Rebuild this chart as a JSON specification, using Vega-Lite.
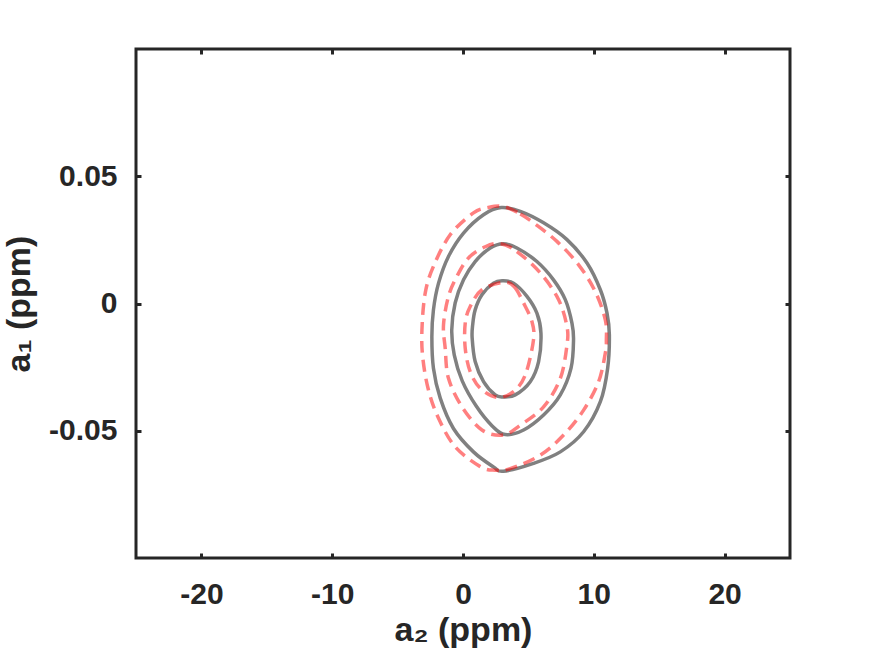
{
  "$schema": "https://vega.github.io/schema/vega-lite/v6.json",
  "width": 654,
  "height": 509,
  "autosize": "none",
  "padding": {"left": 136, "top": 49, "right": 82, "bottom": 96},
  "background": "white",
  "config": {
    "view": {"stroke": "#262626", "strokeWidth": 3},
    "font": "Liberation Sans",
    "axis": {
      "domain": false,
      "grid": false,
      "tickColor": "#262626",
      "tickWidth": 3,
      "tickSize": -5,
      "labelFont": "Liberation Sans",
      "labelFontWeight": "bold",
      "labelFontSize": 30,
      "labelColor": "#262626",
      "titleFont": "Liberation Sans",
      "titleFontWeight": "bold",
      "titleFontSize": 34,
      "titleColor": "#262626"
    }
  },
  "data": {
    "values": [
      {"curve": "S3", "type": "solid", "i": 1, "x": 2.92, "y": 0.0377},
      {"curve": "S3", "type": "solid", "i": 2, "x": 4.38, "y": 0.0362},
      {"curve": "S3", "type": "solid", "i": 3, "x": 6.16, "y": 0.0317},
      {"curve": "S3", "type": "solid", "i": 4, "x": 7.95, "y": 0.0251},
      {"curve": "S3", "type": "solid", "i": 5, "x": 9.48, "y": 0.0159},
      {"curve": "S3", "type": "solid", "i": 6, "x": 10.5, "y": 0.0054},
      {"curve": "S3", "type": "solid", "i": 7, "x": 11.01, "y": -0.0038},
      {"curve": "S3", "type": "solid", "i": 8, "x": 11.19, "y": -0.0123},
      {"curve": "S3", "type": "solid", "i": 9, "x": 11.06, "y": -0.0254},
      {"curve": "S3", "type": "solid", "i": 10, "x": 10.5, "y": -0.0386},
      {"curve": "S3", "type": "solid", "i": 11, "x": 9.22, "y": -0.0504},
      {"curve": "S3", "type": "solid", "i": 12, "x": 7.44, "y": -0.0583},
      {"curve": "S3", "type": "solid", "i": 13, "x": 5.39, "y": -0.0628},
      {"curve": "S3", "type": "solid", "i": 14, "x": 3.08, "y": -0.0659},
      {"curve": "S3", "type": "solid", "i": 15, "x": 2.33, "y": -0.0642},
      {"curve": "S3", "type": "solid", "i": 16, "x": 0.8, "y": -0.0583},
      {"curve": "S3", "type": "solid", "i": 17, "x": -0.73, "y": -0.0491},
      {"curve": "S3", "type": "solid", "i": 18, "x": -1.74, "y": -0.0372},
      {"curve": "S3", "type": "solid", "i": 19, "x": -2.26, "y": -0.0254},
      {"curve": "S3", "type": "solid", "i": 20, "x": -2.38, "y": -0.0131},
      {"curve": "S3", "type": "solid", "i": 21, "x": -2.26, "y": -0.0025},
      {"curve": "S3", "type": "solid", "i": 22, "x": -1.87, "y": 0.008},
      {"curve": "S3", "type": "solid", "i": 23, "x": -1.11, "y": 0.0185},
      {"curve": "S3", "type": "solid", "i": 24, "x": 0.04, "y": 0.0277},
      {"curve": "S3", "type": "solid", "i": 25, "x": 1.57, "y": 0.0349},

      {"curve": "S2", "type": "solid", "i": 1, "x": 3.08, "y": 0.0235},
      {"curve": "S2", "type": "solid", "i": 2, "x": 4.12, "y": 0.0218},
      {"curve": "S2", "type": "solid", "i": 3, "x": 5.65, "y": 0.0165},
      {"curve": "S2", "type": "solid", "i": 4, "x": 6.92, "y": 0.0093},
      {"curve": "S2", "type": "solid", "i": 5, "x": 7.82, "y": 0.0015},
      {"curve": "S2", "type": "solid", "i": 6, "x": 8.33, "y": -0.0077},
      {"curve": "S2", "type": "solid", "i": 7, "x": 8.45, "y": -0.0143},
      {"curve": "S2", "type": "solid", "i": 8, "x": 8.26, "y": -0.0254},
      {"curve": "S2", "type": "solid", "i": 9, "x": 7.44, "y": -0.0359},
      {"curve": "S2", "type": "solid", "i": 10, "x": 6.16, "y": -0.0438},
      {"curve": "S2", "type": "solid", "i": 11, "x": 4.63, "y": -0.0497},
      {"curve": "S2", "type": "solid", "i": 12, "x": 3.23, "y": -0.0515},
      {"curve": "S2", "type": "solid", "i": 13, "x": 2.23, "y": -0.0481},
      {"curve": "S2", "type": "solid", "i": 14, "x": 1.01, "y": -0.0403},
      {"curve": "S2", "type": "solid", "i": 15, "x": -0.06, "y": -0.0304},
      {"curve": "S2", "type": "solid", "i": 16, "x": -0.67, "y": -0.0202},
      {"curve": "S2", "type": "solid", "i": 17, "x": -0.86, "y": -0.0104},
      {"curve": "S2", "type": "solid", "i": 18, "x": -0.6, "y": 0.0002},
      {"curve": "S2", "type": "solid", "i": 19, "x": 0.04, "y": 0.0093},
      {"curve": "S2", "type": "solid", "i": 20, "x": 0.93, "y": 0.0165},
      {"curve": "S2", "type": "solid", "i": 21, "x": 2.08, "y": 0.0218},

      {"curve": "S1", "type": "solid", "i": 1, "x": 3.0, "y": 0.0089},
      {"curve": "S1", "type": "solid", "i": 2, "x": 3.86, "y": 0.008},
      {"curve": "S1", "type": "solid", "i": 3, "x": 4.89, "y": 0.0028},
      {"curve": "S1", "type": "solid", "i": 4, "x": 5.65, "y": -0.0038},
      {"curve": "S1", "type": "solid", "i": 5, "x": 5.96, "y": -0.0117},
      {"curve": "S1", "type": "solid", "i": 6, "x": 5.78, "y": -0.0228},
      {"curve": "S1", "type": "solid", "i": 7, "x": 5.14, "y": -0.0307},
      {"curve": "S1", "type": "solid", "i": 8, "x": 3.99, "y": -0.0359},
      {"curve": "S1", "type": "solid", "i": 9, "x": 3.08, "y": -0.0367},
      {"curve": "S1", "type": "solid", "i": 10, "x": 2.46, "y": -0.0359},
      {"curve": "S1", "type": "solid", "i": 11, "x": 1.57, "y": -0.0307},
      {"curve": "S1", "type": "solid", "i": 12, "x": 0.93, "y": -0.0228},
      {"curve": "S1", "type": "solid", "i": 13, "x": 0.7, "y": -0.0135},
      {"curve": "S1", "type": "solid", "i": 14, "x": 0.74, "y": -0.0084},
      {"curve": "S1", "type": "solid", "i": 15, "x": 0.93, "y": -0.0025},
      {"curve": "S1", "type": "solid", "i": 16, "x": 1.45, "y": 0.0034},
      {"curve": "S1", "type": "solid", "i": 17, "x": 2.33, "y": 0.008},

      {"curve": "D3", "type": "dashed", "i": 1, "x": 3.08, "y": 0.0381},
      {"curve": "D3", "type": "dashed", "i": 2, "x": 4.38, "y": 0.0352},
      {"curve": "D3", "type": "dashed", "i": 3, "x": 5.39, "y": 0.0317},
      {"curve": "D3", "type": "dashed", "i": 4, "x": 7.18, "y": 0.0244},
      {"curve": "D3", "type": "dashed", "i": 5, "x": 8.84, "y": 0.0152},
      {"curve": "D3", "type": "dashed", "i": 6, "x": 10.11, "y": 0.0047},
      {"curve": "D3", "type": "dashed", "i": 7, "x": 10.88, "y": -0.0064},
      {"curve": "D3", "type": "dashed", "i": 8, "x": 10.96, "y": -0.0143},
      {"curve": "D3", "type": "dashed", "i": 9, "x": 10.88, "y": -0.0195},
      {"curve": "D3", "type": "dashed", "i": 10, "x": 10.37, "y": -0.0307},
      {"curve": "D3", "type": "dashed", "i": 11, "x": 9.22, "y": -0.0419},
      {"curve": "D3", "type": "dashed", "i": 12, "x": 7.69, "y": -0.0517},
      {"curve": "D3", "type": "dashed", "i": 13, "x": 5.91, "y": -0.0596},
      {"curve": "D3", "type": "dashed", "i": 14, "x": 3.61, "y": -0.0649},
      {"curve": "D3", "type": "dashed", "i": 15, "x": 2.46, "y": -0.0655},
      {"curve": "D3", "type": "dashed", "i": 16, "x": 1.32, "y": -0.0641},
      {"curve": "D3", "type": "dashed", "i": 17, "x": -0.6, "y": -0.0563},
      {"curve": "D3", "type": "dashed", "i": 18, "x": -1.87, "y": -0.0451},
      {"curve": "D3", "type": "dashed", "i": 19, "x": -2.64, "y": -0.034},
      {"curve": "D3", "type": "dashed", "i": 20, "x": -3.07, "y": -0.0215},
      {"curve": "D3", "type": "dashed", "i": 21, "x": -3.14, "y": -0.0104},
      {"curve": "D3", "type": "dashed", "i": 22, "x": -2.89, "y": 0.0041},
      {"curve": "D3", "type": "dashed", "i": 23, "x": -2.26, "y": 0.0146},
      {"curve": "D3", "type": "dashed", "i": 24, "x": -0.98, "y": 0.027},
      {"curve": "D3", "type": "dashed", "i": 25, "x": 0.8, "y": 0.0356},
      {"curve": "D3", "type": "dashed", "i": 26, "x": 1.93, "y": 0.0377},

      {"curve": "D2", "type": "dashed", "i": 1, "x": 2.85, "y": 0.0235},
      {"curve": "D2", "type": "dashed", "i": 2, "x": 4.12, "y": 0.0204},
      {"curve": "D2", "type": "dashed", "i": 3, "x": 5.91, "y": 0.012},
      {"curve": "D2", "type": "dashed", "i": 4, "x": 7.31, "y": 0.0015},
      {"curve": "D2", "type": "dashed", "i": 5, "x": 7.95, "y": -0.0091},
      {"curve": "D2", "type": "dashed", "i": 6, "x": 7.95, "y": -0.0163},
      {"curve": "D2", "type": "dashed", "i": 7, "x": 7.44, "y": -0.0294},
      {"curve": "D2", "type": "dashed", "i": 8, "x": 6.16, "y": -0.0406},
      {"curve": "D2", "type": "dashed", "i": 9, "x": 4.38, "y": -0.0478},
      {"curve": "D2", "type": "dashed", "i": 10, "x": 3.08, "y": -0.0517},
      {"curve": "D2", "type": "dashed", "i": 11, "x": 1.45, "y": -0.0497},
      {"curve": "D2", "type": "dashed", "i": 12, "x": -0.08, "y": -0.0406},
      {"curve": "D2", "type": "dashed", "i": 13, "x": -1.11, "y": -0.0294},
      {"curve": "D2", "type": "dashed", "i": 14, "x": -1.36, "y": -0.0176},
      {"curve": "D2", "type": "dashed", "i": 15, "x": -1.49, "y": -0.0084},
      {"curve": "D2", "type": "dashed", "i": 16, "x": -1.11, "y": 0.0028},
      {"curve": "D2", "type": "dashed", "i": 17, "x": -0.47, "y": 0.0106},
      {"curve": "D2", "type": "dashed", "i": 18, "x": 0.42, "y": 0.0179},
      {"curve": "D2", "type": "dashed", "i": 19, "x": 1.7, "y": 0.0223},

      {"curve": "D1", "type": "dashed", "i": 1, "x": 3.1, "y": 0.0083},
      {"curve": "D1", "type": "dashed", "i": 2, "x": 3.92, "y": 0.0066},
      {"curve": "D1", "type": "dashed", "i": 3, "x": 4.63, "y": 0.0002},
      {"curve": "D1", "type": "dashed", "i": 4, "x": 5.27, "y": -0.0071},
      {"curve": "D1", "type": "dashed", "i": 5, "x": 5.39, "y": -0.0143},
      {"curve": "D1", "type": "dashed", "i": 6, "x": 4.76, "y": -0.0281},
      {"curve": "D1", "type": "dashed", "i": 7, "x": 3.86, "y": -0.0346},
      {"curve": "D1", "type": "dashed", "i": 8, "x": 2.62, "y": -0.0369},
      {"curve": "D1", "type": "dashed", "i": 9, "x": 1.32, "y": -0.0333},
      {"curve": "D1", "type": "dashed", "i": 10, "x": 0.55, "y": -0.0268},
      {"curve": "D1", "type": "dashed", "i": 11, "x": 0.17, "y": -0.0176},
      {"curve": "D1", "type": "dashed", "i": 12, "x": 0.17, "y": -0.0077},
      {"curve": "D1", "type": "dashed", "i": 13, "x": 0.55, "y": -0.0012},
      {"curve": "D1", "type": "dashed", "i": 14, "x": 1.45, "y": 0.0054}
    ]
  },
  "resolve": {"axis": {"x": "independent", "y": "independent"}},
  "layer": [
    {
      "transform": [{"filter": "datum.type === 'solid'"}],
      "mark": {"type": "line", "interpolate": "cardinal-closed", "color": "#808080", "strokeWidth": 3.5},
      "encoding": {
        "x": {
          "field": "x", "type": "quantitative",
          "scale": {"domain": [-25, 25], "nice": false, "zero": false},
          "axis": {
            "orient": "bottom", "values": [-20, -10, 0, 10, 20],
            "labelExpr": "(datum.value < 0 ? '-' : '') + abs(datum.value)",
            "labelPadding": 26, "title": "a₂ (ppm)", "titlePadding": 4
          }
        },
        "y": {
          "field": "y", "type": "quantitative",
          "scale": {"domain": [-0.1, 0.1], "nice": false, "zero": false},
          "axis": {
            "orient": "left", "values": [-0.05, 0, 0.05],
            "labelExpr": "datum.value === 0 ? '0' : (datum.value < 0 ? '-' : '') + format(abs(datum.value), '.2f')",
            "labelPadding": 24, "title": "a₁ (ppm)", "titlePadding": 12
          }
        },
        "detail": {"field": "curve"},
        "order": {"field": "i"}
      }
    },
    {
      "transform": [{"filter": "datum.type === 'dashed'"}],
      "mark": {"type": "line", "interpolate": "cardinal-closed", "color": "#ff0000", "strokeOpacity": 0.5, "strokeWidth": 3.5, "strokeDash": [12, 7]},
      "encoding": {
        "x": {
          "field": "x", "type": "quantitative",
          "scale": {"domain": [-25, 25], "nice": false, "zero": false},
          "axis": {"orient": "top", "values": [-20, -10, 0, 10, 20], "labels": false, "title": null}
        },
        "y": {
          "field": "y", "type": "quantitative",
          "scale": {"domain": [-0.1, 0.1], "nice": false, "zero": false},
          "axis": {"orient": "right", "values": [-0.05, 0, 0.05], "labels": false, "title": null}
        },
        "detail": {"field": "curve"},
        "order": {"field": "i"}
      }
    }
  ]
}
